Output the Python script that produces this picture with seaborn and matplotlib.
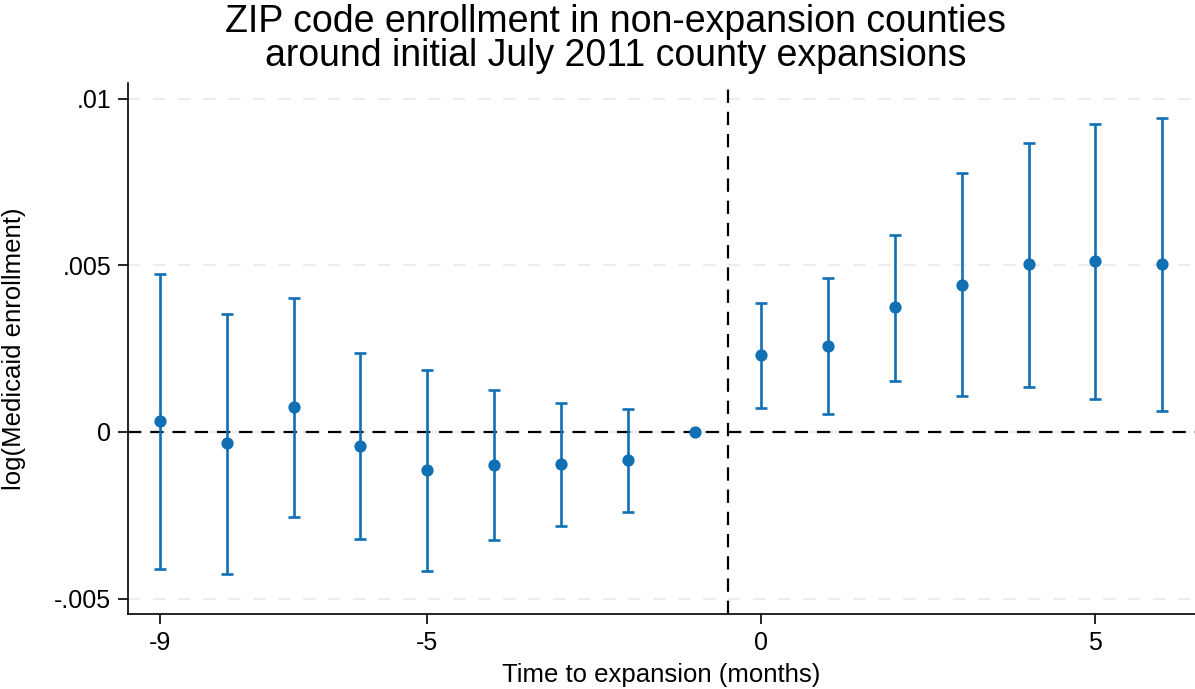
import matplotlib

matplotlib.use("Agg")
import matplotlib.pyplot as plt
import numpy as np
import pandas as pd
import seaborn as sns

# event-time coefficients
MONTHS = [-9, -8, -7, -6, -5, -4, -3, -2, -1, 0, 1, 2, 3, 4, 5, 6]
COEF = [0.00033, -0.00033, 0.00075, -0.00042, -0.00114, -0.00099, -0.00096, -0.00084,
        0.0, 0.00231, 0.00258, 0.00375, 0.00441, 0.00505, 0.00512, 0.00505]
CI_HI = [0.00475, 0.00354, 0.00402, 0.00237, 0.00186, 0.00126, 0.00087, 0.00069,
         np.nan, 0.00387, 0.00462, 0.00592, 0.00778, 0.00868, 0.00925, 0.00943]
CI_LO = [-0.0041, -0.00426, -0.00255, -0.00321, -0.00417, -0.00324, -0.00282, -0.0024,
         np.nan, 0.00072, 0.00054, 0.00153, 0.00108, 0.00135, 0.00099, 0.00063]
X_TICKS = [-9, -5, 0, 5]
Y_TICKS = [-0.005, 0, 0.005, 0.01]
Y_TICK_LABELS = ["-.005", "0", ".005", ".01"]

BLUE = "#1170b4"

sns.set_theme(style="white")
plt.rcParams["font.family"] = ["Liberation Sans", "DejaVu Sans"]
plt.rcParams["axes.unicode_minus"] = False
plt.rcParams["text.color"] = "black"
plt.rcParams["axes.labelcolor"] = "black"

df = pd.DataFrame({"month": MONTHS, "coef": COEF, "hi": CI_HI, "lo": CI_LO})

fig = plt.figure(figsize=(11.95, 6.89), dpi=100)
ax = fig.add_axes([0.107, 0.109, 0.893, 0.771])

for y in Y_TICKS:
    ax.axhline(y, color="#ececec", lw=1.5, ls=(0, (6, 6)), zorder=0)
ax.axhline(0, color="black", lw=1.6, ls=(0, (6, 4)), zorder=1)
ax.axvline(-0.5, color="black", lw=1.6, ls=(0, (6, 4)), zorder=1)

ci = df.dropna()
ax.errorbar(ci["month"], ci["coef"],
            yerr=[ci["coef"] - ci["lo"], ci["hi"] - ci["coef"]],
            fmt="none", ecolor=BLUE, elinewidth=1.9, capsize=4, capthick=1.9, zorder=2)
sns.scatterplot(data=df, x="month", y="coef", ax=ax, color=BLUE, s=78,
                edgecolor=BLUE, linewidth=0, zorder=3)

ax.set_xlim(-9.48, 6.49)
ax.set_ylim(-0.00546, 0.01048)
ax.set_xticks(X_TICKS)
ax.set_xticklabels([str(v) for v in X_TICKS])
ax.set_yticks(Y_TICKS)
ax.set_yticklabels(Y_TICK_LABELS)
ax.tick_params(axis="both", labelsize=18, length=7, width=1.2, direction="out",
               bottom=True, left=True, colors="black", pad=5)
for side in ["top", "right"]:
    ax.spines[side].set_visible(False)
for side in ["left", "bottom"]:
    ax.spines[side].set_color("black")
    ax.spines[side].set_linewidth(1.2)

ax.set_xlabel("Time to expansion (months)", fontsize=18.5, labelpad=6)
ax.set_ylabel("log(Medicaid enrollment)", fontsize=18.5, labelpad=20)
ax.set_title("ZIP code enrollment in non-expansion counties\naround initial July 2011 county expansions",
             fontsize=27, linespacing=0.92, pad=12, x=0.457)

fig.savefig("out.png", dpi=100)
